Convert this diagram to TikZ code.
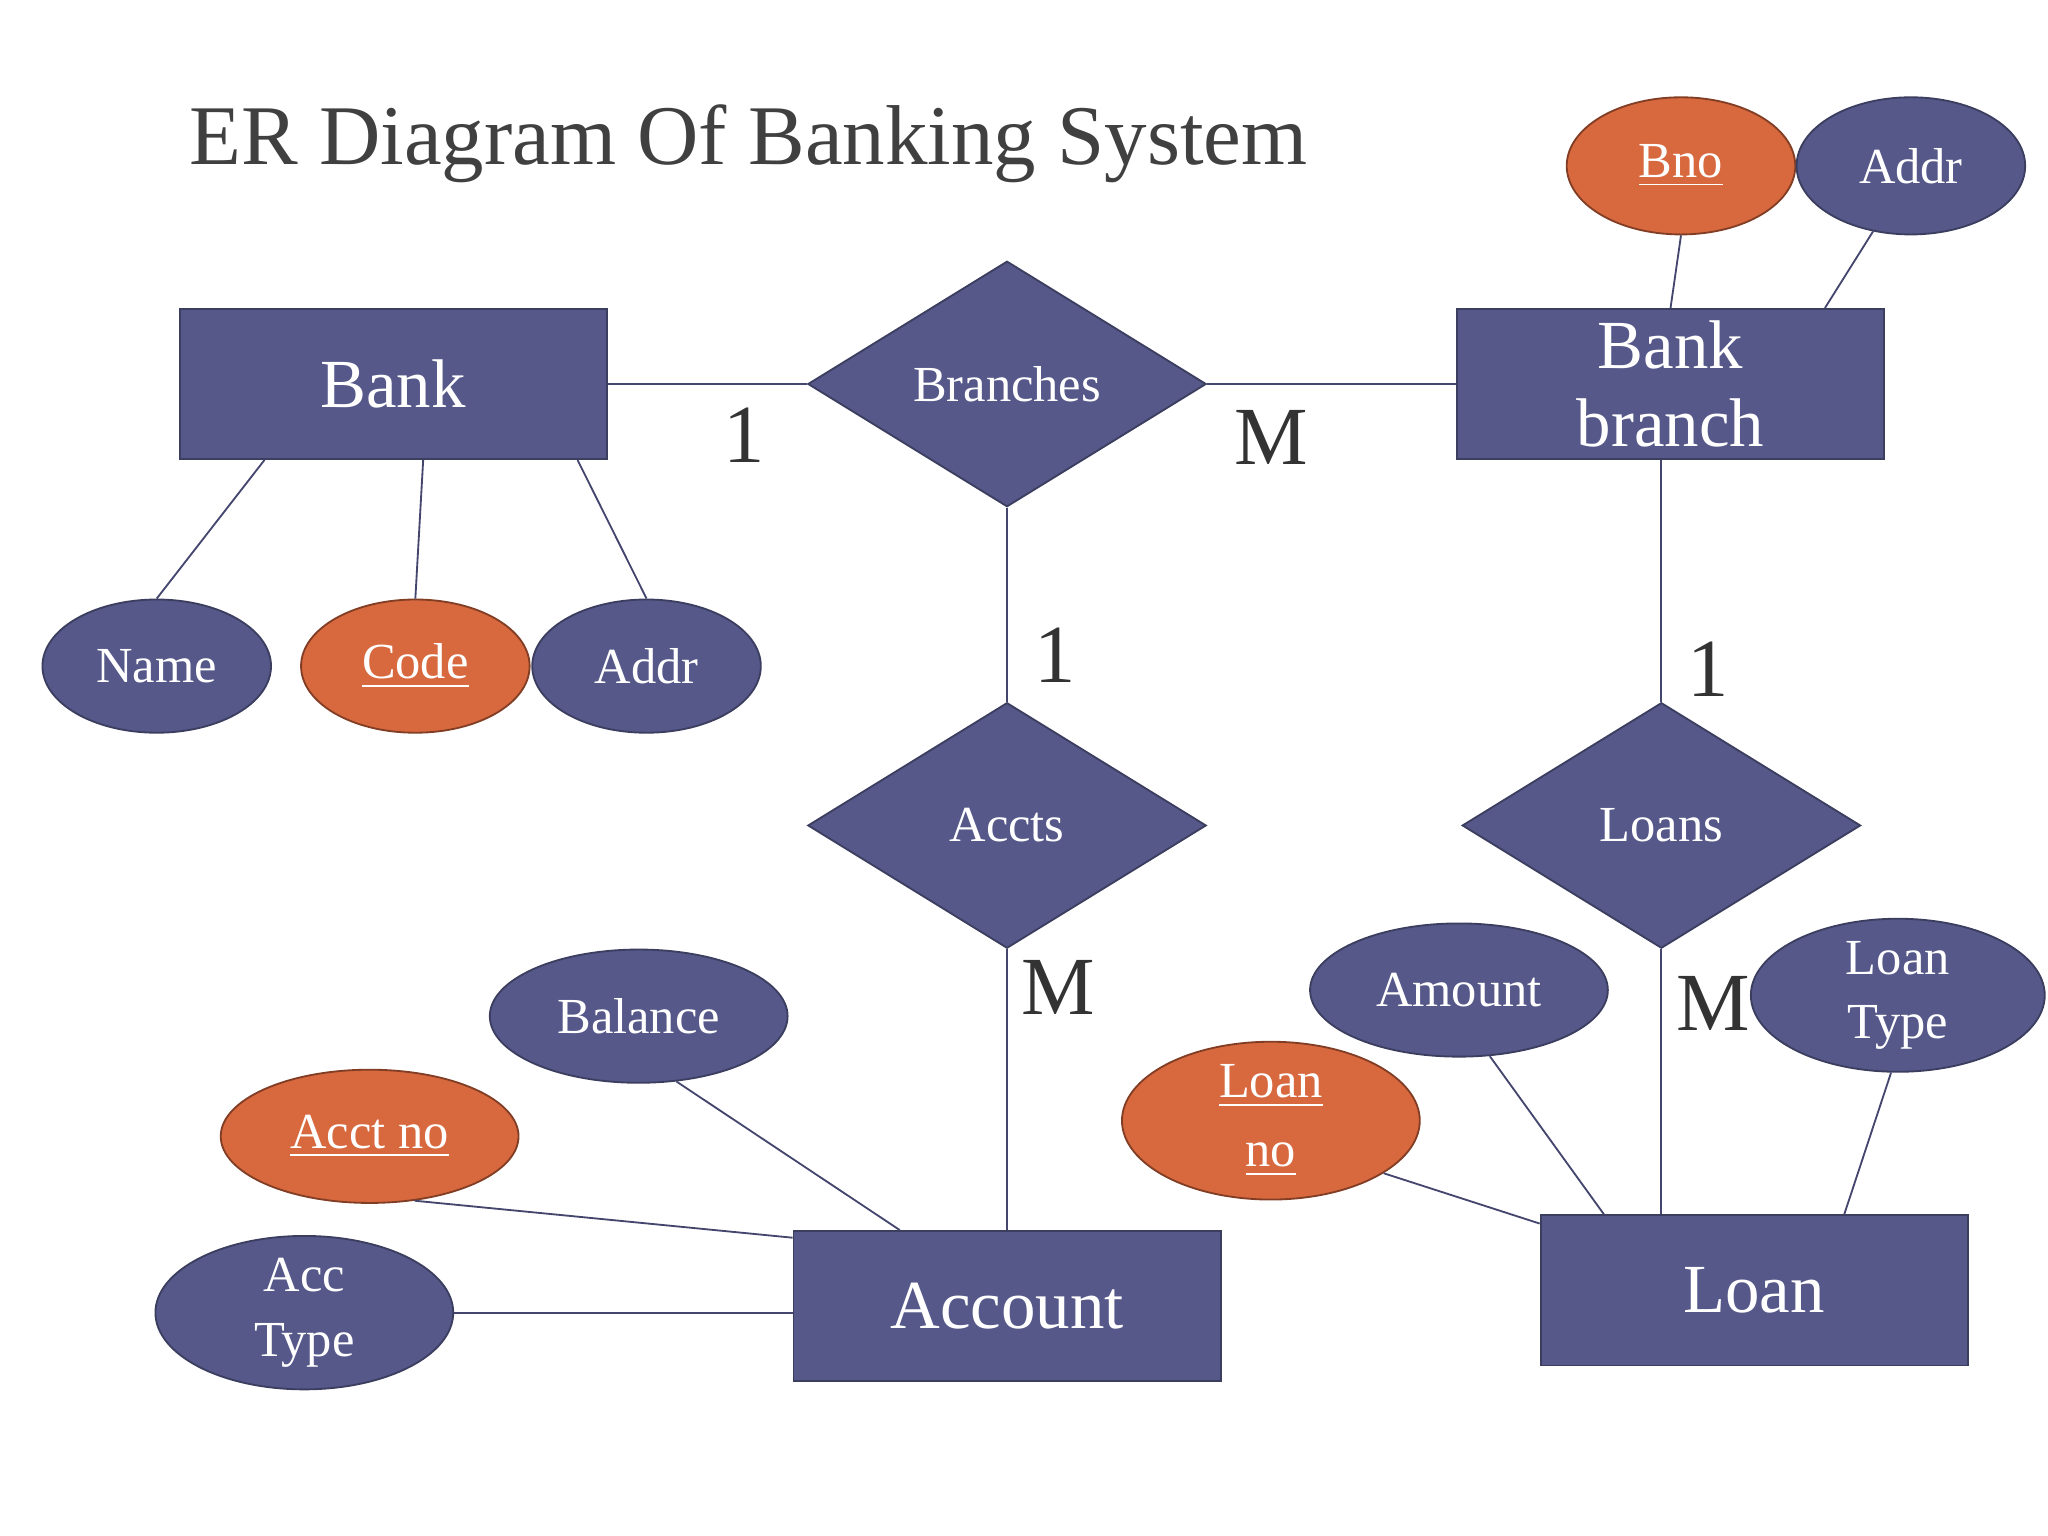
\documentclass[tikz,border=0pt]{standalone}
\usepackage{fontspec}
\setmainfont{Liberation Serif}
\usetikzlibrary{shapes.geometric,calc}
\definecolor{erblue}{HTML}{555889}
\definecolor{erorange}{HTML}{D8683E}
\tikzset{
  entity/.style={rectangle,draw=erblue!70!black,fill=erblue,text=white,minimum width=3.27cm,minimum height=1.15cm,inner sep=0pt,font=\fontsize{15}{16}\selectfont,align=center},
  rel/.style={diamond,draw=erblue!70!black,fill=erblue,text=white,minimum width=3.05cm,minimum height=1.88cm,aspect=1.6,inner sep=0pt,font=\fontsize{11}{13}\selectfont},
  attr/.style={ellipse,draw=erblue!70!black,fill=erblue,text=white,minimum width=2.28cm,minimum height=1.02cm,inner sep=0pt,font=\fontsize{11}{12}\selectfont,align=center},
  key/.style={attr,draw=erorange!60!black,fill=erorange},
  card/.style={font=\fontsize{18}{20}\selectfont,text=black!80},
  conn/.style={draw=erblue!80!black,thin}
}
\begin{document}
\begin{tikzpicture}[yscale=-1]
    \useasboundingbox (0,0) rectangle (15.68,11.76);
    \node at (5.73,1.10) [font=\fontsize{18.5}{20}\selectfont,text=black!75] (title) {ER Diagram Of Banking System};

    \node at (3.01,2.94) [entity] (bank) {Bank};
    \node at (7.71,2.94) [rel] (branches) {Branches};
    \node at (12.79,2.94) [entity] (bbranch) {Bank\\[1pt]branch};

    \node at (12.87,1.27) [key,minimum width=1.75cm,minimum height=1.05cm] (bno) {\underline{Bno}};
    \node at (14.63,1.27) [attr,minimum width=1.75cm,minimum height=1.05cm] (baddr) {Addr};

    \node at (1.20,5.10) [attr,minimum width=1.75cm] (name) {Name};
    \node at (3.18,5.10) [key,minimum width=1.75cm] (code) {\underline{Code}};
    \node at (4.95,5.10) [attr,minimum width=1.75cm] (addr) {Addr};

    \node at (7.71,6.32) [rel] (accts) {Accts};
    \node at (12.72,6.32) [rel] (loans) {Loans};

    \node at (7.71,10.00) [entity] (account) {Account};
    \node at (13.43,9.88) [entity] (loan) {Loan};

    \node at (4.89,7.78) [attr] (balance) {Balance};
    \node at (2.83,8.70) [key] (acctno) {\underline{Acct no}};
    \node at (2.33,10.05) [attr] (acctype) {Acc\\[2pt]Type};
    \node at (11.17,7.58) [attr] (amount) {Amount};
    \node at (14.53,7.62) [attr,minimum width=2.25cm] (ltype) {Loan\\[2pt]Type};
    \node at (9.73,8.58) [key] (loanno) {\underline{Loan}\\[3pt]\underline{no}};

    \node at (5.70,3.33) [card] (c1) {1};
    \node at (9.73,3.35) [card] (c2) {M};
    \node at (8.08,5.02) [card] (c3) {1};
    \node at (13.08,5.12) [card] (c4) {1};
    \node at (8.10,7.56) [card] (c5) {M};
    \node at (13.12,7.68) [card] (c6) {M};

    \draw[conn] (bank.east) -- (branches.west) (branches.east) -- (bbranch.west);
    \draw[conn] (branches.south) -- (accts.north) (accts.south) -- (account.north);
    \draw[conn] (loans.north) -- (loans.north |- bbranch.south) (loans.south) -- (loans.south |- loan.north);
    % attributes of Bank
    \draw[conn] (name.north) -- ($(bank.south west)!0.2!(bank.south east)$);
    \draw[conn] (code.north) -- ($(bank.south west)!0.57!(bank.south east)$);
    \draw[conn] (addr.north) -- ($(bank.south west)!0.93!(bank.south east)$);
    % attributes of Bank branch
    \draw[conn] (bno.south) -- ($(bbranch.north west)!0.5!(bbranch.north east)$);
    \draw[conn] (baddr.-120) -- ($(bbranch.north west)!0.86!(bbranch.north east)$);
    % attributes of Account
    \draw[conn] (balance.-60) -- ($(account.north west)!0.25!(account.north east)$);
    \draw[conn] (acctno.-55) -- ($(account.north west)!0.05!(account.south west)$);
    \draw[conn] (acctype.east) -- (acctype.east -| account.west);
    % attributes of Loan
    \draw[conn] (amount.-65) -- ($(loan.north west)!0.15!(loan.north east)$);
    \draw[conn] (ltype.-95) -- ($(loan.north west)!0.71!(loan.north east)$);
    \draw[conn] (loanno.-25) -- ($(loan.north west)!0.06!(loan.south west)$);
\end{tikzpicture}
\end{document}
